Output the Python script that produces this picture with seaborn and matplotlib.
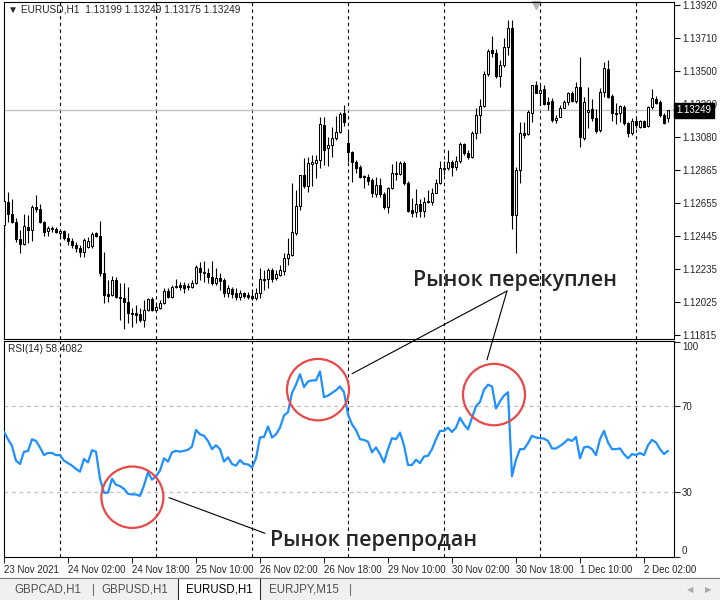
import numpy as np
import matplotlib
matplotlib.use("Agg")
import matplotlib.pyplot as plt
import matplotlib.transforms as mtransforms
from matplotlib.patches import Ellipse, Rectangle, ConnectionPatch
import seaborn as sns

# EURUSD H1, 23 Nov 2021 10:00 .. 2 Dec 2021 08:00 (167 bars)
open_ = [
    1.12517, 1.12663, 1.12587, 1.12536, 1.12427, 1.12395, 1.12504, 1.12485, 1.12631, 1.12619,
    1.12536, 1.12478, 1.12497, 1.12491, 1.12466, 1.12478, 1.12434, 1.12414, 1.12389, 1.12370,
    1.12344, 1.12376, 1.12383, 1.12466, 1.12446, 1.12210, 1.12076, 1.12070, 1.12166, 1.12057,
    1.12051, 1.12025, 1.11955, 1.11955, 1.11949, 1.11910, 1.11974, 1.12044, 1.11974, 1.11987,
    1.12019, 1.12095, 1.12057, 1.12127, 1.12134, 1.12134, 1.12127, 1.12121, 1.12147, 1.12242,
    1.12210, 1.12210, 1.12185, 1.12147, 1.12178, 1.12166, 1.12083, 1.12108, 1.12083, 1.12057,
    1.12083, 1.12070, 1.12064, 1.12051, 1.12083, 1.12166, 1.12172, 1.12229, 1.12178, 1.12198,
    1.12223, 1.12306, 1.12325, 1.12466, 1.12638, 1.12836, 1.12765, 1.12906, 1.12912, 1.12931,
    1.13155, 1.13008, 1.13027, 1.13072, 1.13110, 1.13231, 1.13040, 1.12982, 1.12918, 1.12887,
    1.12829, 1.12823, 1.12804, 1.12714, 1.12772, 1.12714, 1.12631, 1.12753, 1.12848, 1.12842,
    1.12912, 1.12784, 1.12612, 1.12599, 1.12651, 1.12606, 1.12663, 1.12663, 1.12721, 1.12784,
    1.12874, 1.12880, 1.12918, 1.12887, 1.12925, 1.13033, 1.12976, 1.12950, 1.13103, 1.13218,
    1.13276, 1.13480, 1.13633, 1.13614, 1.13467, 1.13537, 1.13652, 1.13773, 1.12580, 1.12867,
    1.13103, 1.13097, 1.13231, 1.13410, 1.13359, 1.13384, 1.13301, 1.13308, 1.13186, 1.13206,
    1.13263, 1.13301, 1.13359, 1.13308, 1.13397, 1.13072, 1.13237, 1.13257, 1.13199, 1.13123,
    1.13365, 1.13512, 1.13340, 1.13231, 1.13231, 1.13269, 1.13167, 1.13103, 1.13180, 1.13142,
    1.13180, 1.13148, 1.13269, 1.13320, 1.13301, 1.13218, 1.13199]

close = [
    1.12670, 1.12587, 1.12536, 1.12427, 1.12395, 1.12510, 1.12485, 1.12631, 1.12619, 1.12536,
    1.12472, 1.12497, 1.12491, 1.12472, 1.12478, 1.12434, 1.12414, 1.12389, 1.12370, 1.12344,
    1.12421, 1.12414, 1.12459, 1.12446, 1.12210, 1.12070, 1.12064, 1.12166, 1.12057, 1.12051,
    1.12025, 1.11955, 1.11949, 1.11942, 1.11910, 1.11974, 1.12044, 1.11974, 1.11993, 1.12019,
    1.12095, 1.12057, 1.12121, 1.12121, 1.12121, 1.12115, 1.12121, 1.12147, 1.12249, 1.12217,
    1.12217, 1.12185, 1.12147, 1.12178, 1.12159, 1.12083, 1.12115, 1.12076, 1.12057, 1.12083,
    1.12064, 1.12057, 1.12051, 1.12083, 1.12172, 1.12172, 1.12229, 1.12172, 1.12204, 1.12229,
    1.12306, 1.12332, 1.12472, 1.12638, 1.12836, 1.12765, 1.12912, 1.12918, 1.12931, 1.13161,
    1.12995, 1.13027, 1.13072, 1.13110, 1.13225, 1.13174, 1.12982, 1.12918, 1.12880, 1.12823,
    1.12823, 1.12797, 1.12721, 1.12772, 1.12714, 1.12631, 1.12753, 1.12848, 1.12842, 1.12912,
    1.12784, 1.12606, 1.12593, 1.12651, 1.12606, 1.12663, 1.12670, 1.12721, 1.12784, 1.12880,
    1.12880, 1.12918, 1.12887, 1.12925, 1.13033, 1.12976, 1.12950, 1.13103, 1.13218, 1.13276,
    1.13480, 1.13627, 1.13614, 1.13467, 1.13537, 1.13652, 1.13773, 1.12580, 1.12867, 1.13103,
    1.13091, 1.13237, 1.13410, 1.13359, 1.13378, 1.13288, 1.13288, 1.13186, 1.13199, 1.13263,
    1.13301, 1.13359, 1.13308, 1.13397, 1.13078, 1.13301, 1.13250, 1.13199, 1.13116, 1.13365,
    1.13518, 1.13333, 1.13231, 1.13225, 1.13276, 1.13167, 1.13103, 1.13180, 1.13155, 1.13180,
    1.13142, 1.13269, 1.13327, 1.13295, 1.13218, 1.13167, 1.13249]

high = [
    1.12689, 1.12727, 1.12682, 1.12561, 1.12485, 1.12587, 1.12580, 1.12644, 1.12708, 1.12651,
    1.12542, 1.12510, 1.12510, 1.12504, 1.12491, 1.12485, 1.12466, 1.12434, 1.12408, 1.12389,
    1.12434, 1.12440, 1.12472, 1.12472, 1.12542, 1.12344, 1.12166, 1.12191, 1.12185, 1.12147,
    1.12147, 1.12121, 1.11987, 1.12006, 1.11987, 1.12038, 1.12051, 1.12057, 1.12025, 1.12038,
    1.12115, 1.12115, 1.12134, 1.12172, 1.12153, 1.12153, 1.12147, 1.12166, 1.12261, 1.12280,
    1.12287, 1.12242, 1.12287, 1.12242, 1.12210, 1.12178, 1.12134, 1.12121, 1.12115, 1.12102,
    1.12089, 1.12089, 1.12102, 1.12115, 1.12242, 1.12229, 1.12242, 1.12242, 1.12229, 1.12261,
    1.12338, 1.12434, 1.12784, 1.12740, 1.12836, 1.12944, 1.12950, 1.12963, 1.12963, 1.13206,
    1.13206, 1.13078, 1.13142, 1.13212, 1.13237, 1.13282, 1.13110, 1.12989, 1.12931, 1.12899,
    1.12836, 1.12842, 1.12816, 1.12823, 1.12816, 1.12727, 1.12759, 1.12906, 1.12925, 1.12925,
    1.12925, 1.12797, 1.12689, 1.12746, 1.12682, 1.12695, 1.12740, 1.12753, 1.12810, 1.12925,
    1.12925, 1.12995, 1.12931, 1.12957, 1.13046, 1.13040, 1.12995, 1.13116, 1.13263, 1.13320,
    1.13499, 1.13639, 1.13722, 1.13639, 1.13569, 1.13710, 1.13824, 1.13824, 1.12887, 1.13174,
    1.13174, 1.13250, 1.13410, 1.13435, 1.13410, 1.13410, 1.13333, 1.13327, 1.13218, 1.13282,
    1.13314, 1.13365, 1.13371, 1.13429, 1.13588, 1.13333, 1.13397, 1.13320, 1.13257, 1.13391,
    1.13556, 1.13569, 1.13352, 1.13295, 1.13282, 1.13282, 1.13174, 1.13199, 1.13199, 1.13186,
    1.13186, 1.13276, 1.13384, 1.13340, 1.13314, 1.13231, 1.13249]

low = [
    1.12376, 1.12536, 1.12529, 1.12408, 1.12338, 1.12389, 1.12402, 1.12414, 1.12599, 1.12529,
    1.12446, 1.12446, 1.12472, 1.12466, 1.12434, 1.12421, 1.12389, 1.12370, 1.12344, 1.12312,
    1.12312, 1.12370, 1.12370, 1.12440, 1.12191, 1.12019, 1.12025, 1.12064, 1.12051, 1.11910,
    1.11853, 1.11891, 1.11866, 1.11891, 1.11898, 1.11866, 1.11968, 1.11968, 1.11968, 1.11981,
    1.12013, 1.12051, 1.12051, 1.12115, 1.12102, 1.12083, 1.12102, 1.12115, 1.12140, 1.12166,
    1.12153, 1.12147, 1.12134, 1.12134, 1.12102, 1.12057, 1.12057, 1.12051, 1.12038, 1.12038,
    1.12051, 1.12044, 1.12038, 1.12038, 1.12051, 1.12102, 1.12115, 1.12153, 1.12166, 1.12191,
    1.12198, 1.12261, 1.12319, 1.12453, 1.12612, 1.12753, 1.12727, 1.12765, 1.12816, 1.12880,
    1.12899, 1.12893, 1.12950, 1.13059, 1.13103, 1.13148, 1.12918, 1.12791, 1.12848, 1.12816,
    1.12753, 1.12772, 1.12695, 1.12695, 1.12695, 1.12619, 1.12593, 1.12746, 1.12804, 1.12836,
    1.12772, 1.12599, 1.12568, 1.12568, 1.12568, 1.12568, 1.12657, 1.12644, 1.12721, 1.12778,
    1.12836, 1.12867, 1.12829, 1.12867, 1.12912, 1.12963, 1.12938, 1.12944, 1.13065, 1.13103,
    1.13269, 1.13467, 1.13588, 1.13454, 1.13397, 1.13525, 1.13601, 1.12491, 1.12338, 1.12784,
    1.13072, 1.13091, 1.13174, 1.13359, 1.13282, 1.13282, 1.13250, 1.13174, 1.13167, 1.13206,
    1.13263, 1.13282, 1.13301, 1.13295, 1.13014, 1.13059, 1.13135, 1.13180, 1.13103, 1.13110,
    1.13333, 1.13327, 1.13180, 1.13161, 1.13174, 1.13155, 1.13078, 1.13091, 1.13135, 1.13135,
    1.13142, 1.13142, 1.13257, 1.13288, 1.13206, 1.13161, 1.13175]

rsi = [
    58.0, 54.6, 51.5, 44.6, 43.1, 48.8, 49.1, 54.6, 53.8, 50.8,
    47.2, 48.2, 48.2, 47.2, 47.2, 44.6, 43.5, 42.3, 40.8, 39.5,
    45.4, 43.8, 49.5, 48.8, 36.2, 29.7, 29.7, 36.2, 33.4, 32.8,
    31.5, 29.2, 28.9, 28.9, 28.2, 33.1, 39.2, 35.8, 37.4, 40.0,
    45.7, 44.2, 48.5, 49.2, 48.8, 49.2, 49.7, 51.2, 58.9, 56.9,
    56.2, 53.8, 50.0, 51.8, 50.0, 44.2, 46.2, 43.1, 42.3, 44.9,
    43.1, 42.9, 41.5, 45.7, 55.4, 55.7, 60.5, 55.4, 56.9, 60.0,
    65.7, 67.2, 76.2, 80.0, 84.9, 78.9, 81.5, 82.0, 82.0, 86.2,
    74.2, 74.9, 76.2, 77.4, 79.2, 76.5, 66.2, 61.5, 58.9, 54.6,
    54.3, 53.4, 48.5, 50.8, 47.7, 43.8, 50.0, 55.1, 54.6, 57.7,
    51.8, 42.6, 42.6, 45.1, 43.5, 46.6, 46.9, 50.0, 54.6, 58.5,
    58.5, 60.0, 58.0, 60.0, 64.6, 61.5, 59.2, 64.6, 70.0, 72.0,
    77.7, 80.0, 79.2, 68.9, 72.3, 74.9, 76.5, 37.4, 45.1, 50.0,
    50.0, 52.8, 56.2, 55.4, 55.1, 54.9, 53.8, 50.3, 50.3, 51.5,
    52.8, 54.6, 53.8, 55.7, 45.7, 50.8, 51.2, 50.0, 47.2, 54.6,
    58.5, 53.1, 50.0, 50.0, 50.3, 47.7, 45.7, 47.7, 47.2, 48.2,
    47.2, 51.8, 54.3, 53.1, 50.0, 47.7, 49.2]

# bar index of each day start (period separators)
day_sep = [14, 38, 62, 86, 110, 134, 158]
time_pos = [0, 16, 32, 48, 64, 80, 96, 112, 128, 144, 160]
time_labels = ["23 Nov 2021", "24 Nov 02:00", "24 Nov 18:00", "25 Nov 10:00",
               "26 Nov 02:00", "26 Nov 18:00", "29 Nov 10:00", "30 Nov 02:00",
               "30 Nov 18:00", "1 Dec 10:00", "2 Dec 02:00"]
price_ticks = [1.13920, 1.13710, 1.13500, 1.13290, 1.13080, 1.12865,
               1.12655, 1.12445, 1.12235, 1.12025, 1.11815]
rsi_ticks = [0, 30, 70, 100]
tabs = ["GBPCAD,H1", "GBPUSD,H1", "EURUSD,H1", "EURJPY,M15"]

sns.set_style("white")
plt.rcParams["font.family"] = ["Liberation Sans", "DejaVu Sans"]

idx = np.arange(len(close))
o = np.array(open_)
c = np.array(close)
hi = np.array(high)
lo = np.array(low)

fig = plt.figure(figsize=(7.2, 6.0), dpi=100)
ax = fig.add_axes([3.5 / 720, 1 - 338.5 / 600, 670 / 720, 336.5 / 600])
ax_rsi = fig.add_axes([3.5 / 720, 1 - 556.5 / 600, 670 / 720, 215.5 / 600])
xlim = (-0.125, 167.375)

# price panel
for d in day_sep:
    ax.axvline(d, color="black", lw=0.8, ls=(0, (3, 3)), zorder=1)
    ax_rsi.axvline(d, color="black", lw=0.8, ls=(0, (3, 3)), zorder=1)
ax.axhline(c[-1], color="#c0c0c0", lw=0.9, zorder=1)
ax.vlines(idx, lo, hi, color="black", lw=0.8, zorder=2)
fills = np.where(c >= o, "white", "black")
ax.bar(idx, c - o, bottom=o, width=0.55, color=fills, edgecolor="black",
       linewidth=0.75, zorder=3)
ax.set_xlim(*xlim)
ax.set_ylim(1.11792, 1.13939)
ax.set_xticks([])
ax.yaxis.tick_right()
ax.set_yticks(price_ticks)
ax.set_yticklabels([f"{p:.5f}" for p in price_ticks], fontsize=7)
ax.tick_params(axis="y", length=4, width=0.8, pad=2, direction="out", color="black")
for s in ax.spines.values():
    s.set_color("black")
    s.set_linewidth(0.8)

trans = mtransforms.blended_transform_factory(ax.transAxes, ax.transData)
ax.text(1.0 + 3 / 670, c[-1], f"{c[-1]:.5f}", transform=trans, ha="left", va="center",
        fontsize=7, color="white", zorder=10,
        bbox=dict(boxstyle="square,pad=0.25", fc="black", ec="black"))
ax.text(4.5 / 670, 1 - 8 / 336.5, "▼ EURUSD,H1  1.13199 1.13249 1.13175 1.13249",
        transform=ax.transAxes, ha="left", va="center", fontsize=7.3)
ax.plot([133], [0.992], marker="v", color="#b4b4b4", markersize=6,
        transform=ax.get_xaxis_transform(), clip_on=False)

# RSI panel
ax_rsi.axhline(70, color="#c0c0c0", lw=0.9, ls=(0, (3, 3)), zorder=1)
ax_rsi.axhline(30, color="#c0c0c0", lw=0.9, ls=(0, (3, 3)), zorder=1)
sns.lineplot(x=idx, y=rsi, ax=ax_rsi, color="#1e90ff", linewidth=1.6, zorder=3)
ax_rsi.set_xlim(*xlim)
ax_rsi.set_ylim(0.8, 100.35)
ax_rsi.yaxis.tick_right()
ax_rsi.set_yticks(rsi_ticks)
ax_rsi.set_yticklabels([str(v) for v in rsi_ticks], fontsize=7)
for lab, v in zip(ax_rsi.get_yticklabels(), rsi_ticks):
    if v == 100:
        lab.set_va("top")
    elif v == 0:
        lab.set_va("bottom")
ax_rsi.tick_params(axis="y", length=4, width=0.8, pad=2, direction="out")
ax_rsi.set_xticks(time_pos)
ax_rsi.set_xticklabels(time_labels, fontsize=7, ha="left")
ax_rsi.tick_params(axis="x", length=4, width=0.8, pad=2, direction="out", bottom=True)
ax_rsi.set_xlabel("")
ax_rsi.set_ylabel("")
for s in ax_rsi.spines.values():
    s.set_color("black")
    s.set_linewidth(0.8)
ax_rsi.text(4.5 / 670, 1 - 8 / 215.5, "RSI(14) 58.4082", transform=ax_rsi.transAxes,
            ha="left", va="center", fontsize=7.3)

# annotations
red = "#e84848"
for cx, cy in [(32.1, 27.6), (78.5, 77.7), (122.5, 75.4)]:
    ax_rsi.add_patch(Ellipse((cx, cy), 15.5, 28.6, fill=False, ec=red, lw=1.6,
                             zorder=5, clip_on=False))
for start in [(87.0, 85.1), (120.75, 91.6)]:
    fig.add_artist(ConnectionPatch(start, (125.75, 1.12095), "data", "data",
                                   axesA=ax_rsi, axesB=ax, color="black", lw=0.8))
ax_rsi.plot([41.25, 65.25], [27.4, 10.8], color="black", lw=0.8, zorder=5)

ax.text(102.25, 1.12127, "Рынок перекуплен", ha="left", va="baseline",
        fontsize=15.5, fontweight="semibold", family=["Open Sans", "DejaVu Sans"],
        zorder=6)
ax_rsi.text(66.5, 4.7, "Рынок перепродан", ha="left", va="baseline",
            fontsize=15.5, fontweight="semibold", family=["Open Sans", "DejaVu Sans"],
            zorder=6)

# tab bar
ax_tab = fig.add_axes([0, 0, 1, 23 / 600])
ax_tab.set_xlim(0, 720)
ax_tab.set_ylim(23, 0)
ax_tab.set_facecolor("#f0f0f0")
ax_tab.set_axis_off()
ax_tab.add_patch(Rectangle((0, 0), 720, 23, fc="#f0f0f0", ec="none"))
ax_tab.plot([0, 720], [0.5, 0.5], color="#808080", lw=0.8)
ax_tab.add_patch(Rectangle((178, 0.5), 82, 23, fc="white", ec="#303030", lw=0.8))
for name, x in zip(tabs, [48, 135, 219, 304]):
    ax_tab.text(x, 12.5, name, ha="center", va="center", fontsize=8.3,
                color="black" if name == "EURUSD,H1" else "#505050")
for x in [93, 350]:
    ax_tab.plot([x, x], [7, 18], color="#707070", lw=0.8)
ax_tab.text(690, 12.5, "◀", ha="center", va="center", fontsize=6, color="#a8a8a8",
            family=["DejaVu Sans"])
ax_tab.text(708, 12.5, "▶", ha="center", va="center", fontsize=6, color="#a8a8a8",
            family=["DejaVu Sans"])

fig.savefig("out.png", dpi=100)
